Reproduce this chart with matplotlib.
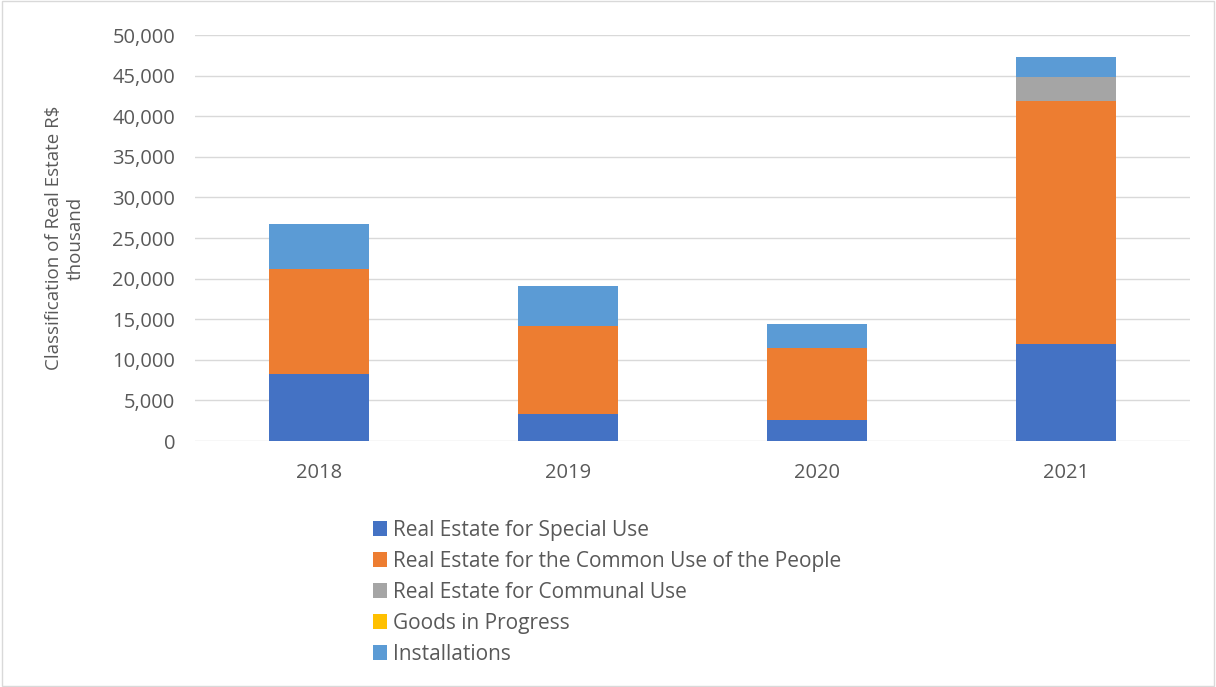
import numpy as np
import matplotlib.pyplot as plt
from matplotlib.ticker import FuncFormatter

# Data (R$ thousand)
years = ["2018", "2019", "2020", "2021"]
special_use = [8200, 3300, 2600, 12000]
common_use = [13000, 10900, 8850, 29900]
communal_use = [0, 0, 0, 2900]
goods_in_progress = [0, 0, 0, 0]
installations = [5500, 4900, 2950, 2500]

series = [
    ("Real Estate for Special Use", special_use, "#4472C4"),
    ("Real Estate for the Common Use of the People", common_use, "#ED7D31"),
    ("Real Estate for Communal Use", communal_use, "#A5A5A5"),
    ("Goods in Progress", goods_in_progress, "#FFC000"),
    ("Installations", installations, "#5B9BD5"),
]

plt.rcParams['font.family'] = ['Open Sans', 'DejaVu Sans']
text_color = "#595959"

fig = plt.figure(figsize=(12.16, 6.87), dpi=100)
ax = fig.add_axes([0.160, 0.358, 0.819, 0.591])

x = np.arange(len(years))
bottom = np.zeros(len(years))
for name, vals, color in series:
    vals = np.array(vals, dtype=float)
    ax.bar(x, vals, width=0.4, bottom=bottom, color=color, label=name, zorder=3)
    bottom += vals

ax.set_ylim(0, 50000)
ax.set_yticks(np.arange(0, 50001, 5000))
ax.yaxis.set_major_formatter(FuncFormatter(lambda v, p: f"{int(v):,}"))
ax.set_xlim(-0.5, len(years) - 0.5)
ax.set_xticks(x)
ax.set_xticklabels(years)
ax.grid(axis='y', color="#D9D9D9", linewidth=1, zorder=0)
for s in ax.spines.values():
    s.set_visible(False)
ax.tick_params(axis='both', length=0, labelsize=14.5, colors=text_color)
ax.tick_params(axis='y', pad=14)
ax.tick_params(axis='x', pad=16)

ax.set_ylabel("Classification of Real Estate R$\nthousand", fontsize=13.5,
              color=text_color, labelpad=20, linespacing=1.25)

ax.legend(loc='upper left', bbox_to_anchor=(0.291, 0.271), bbox_transform=fig.transFigure,
          frameon=False, fontsize=15, labelcolor=text_color, handlelength=0.7,
          handleheight=0.7, handletextpad=0.3, labelspacing=0.48)

# thin frame around the whole figure
fig.patches.append(plt.Rectangle((0.002, 0.002), 0.996, 0.996, transform=fig.transFigure,
                                 fill=False, edgecolor="#D9D9D9", linewidth=1))

fig.savefig("out.png", dpi=100)
